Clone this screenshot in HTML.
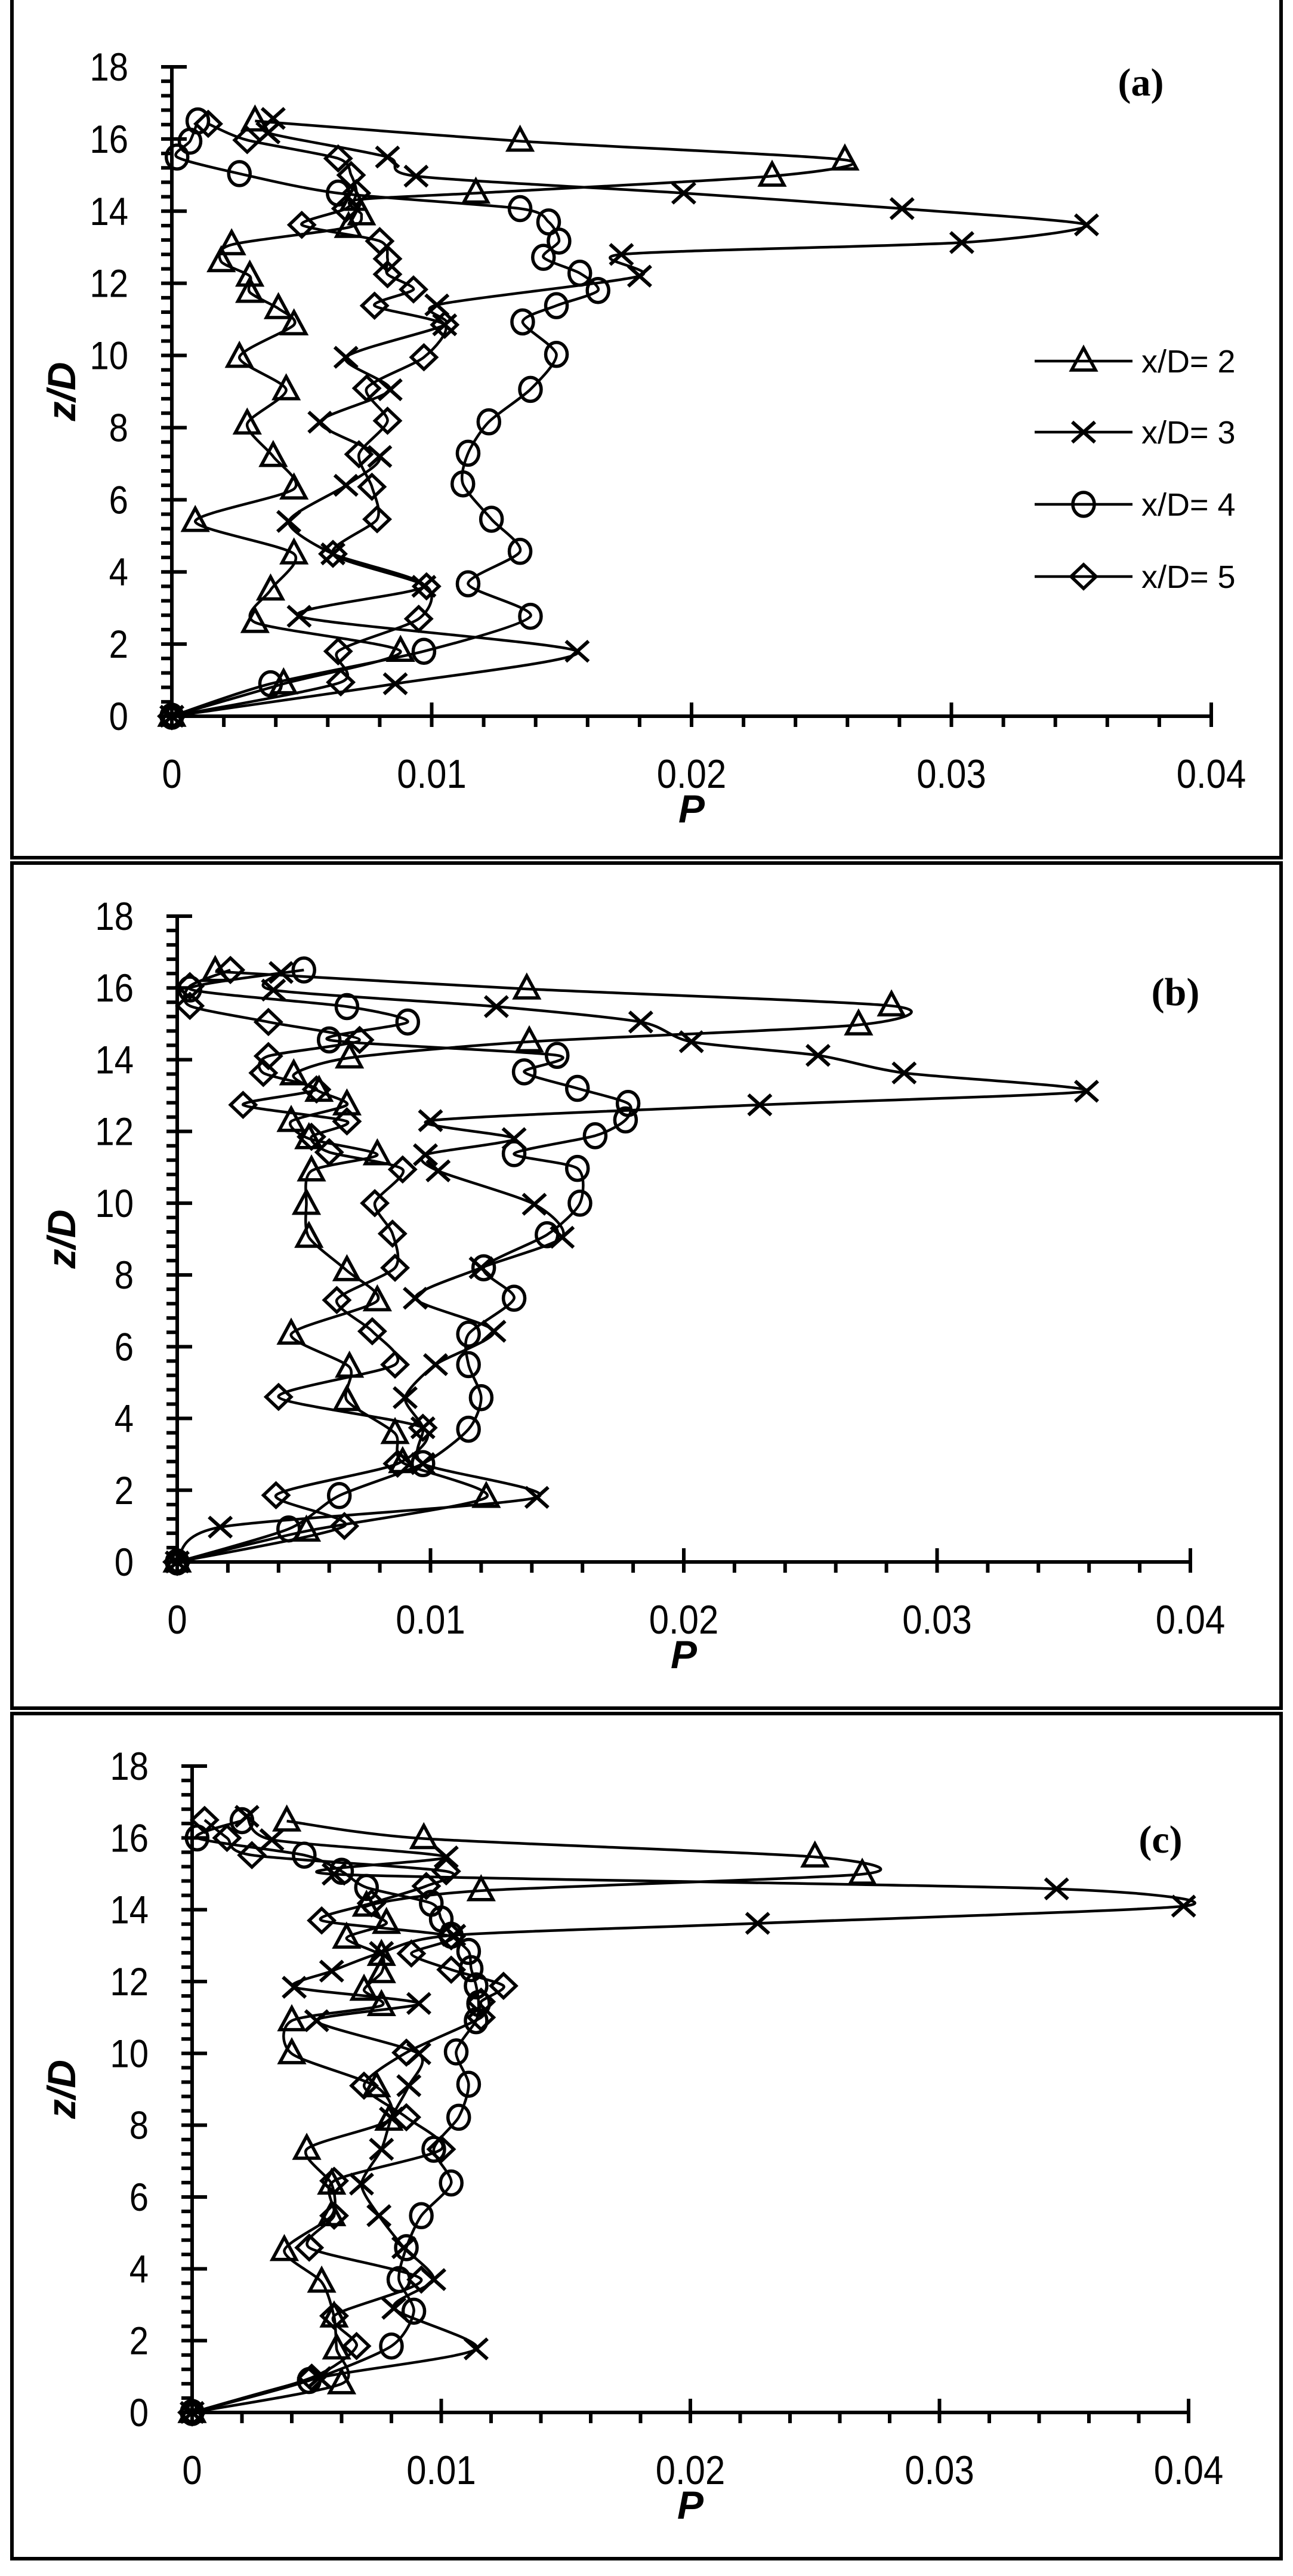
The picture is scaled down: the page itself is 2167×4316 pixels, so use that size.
<!DOCTYPE html>
<html><head><meta charset="utf-8"><style>
html,body{margin:0;padding:0;background:#fff;}
svg{display:block}
</style></head><body>
<svg id="s" width="2167" height="4316" xmlns="http://www.w3.org/2000/svg"></svg>
<script>
const svg=document.getElementById('s');
let out='';
function cr(pts){
  let d='M'+pts[0][0].toFixed(1)+','+pts[0][1].toFixed(1);
  for(let i=0;i<pts.length-1;i++){
    const p0=pts[i-1]||pts[i],p1=pts[i],p2=pts[i+1],p3=pts[i+2]||pts[i+1];
    const t=1/8;
    const c1=[p1[0]+(p2[0]-p0[0])*t,p1[1]+(p2[1]-p0[1])*t];
    const c2=[p2[0]-(p3[0]-p1[0])*t,p2[1]-(p3[1]-p1[1])*t];
    d+='C'+c1[0].toFixed(1)+','+c1[1].toFixed(1)+' '+c2[0].toFixed(1)+','+c2[1].toFixed(1)+' '+p2[0].toFixed(1)+','+p2[1].toFixed(1);
  }
  return d;
}
function marker(type,x,y){
  const s='stroke="#000" stroke-width="5.5" fill="none"';
  if(type==0){return `<path d="M${x},${y-22}L${x+20},${y+15}L${x-20},${y+15}Z" ${s}/>`;}
  if(type==1){return `<path d="M${x-19},${y-17}L${x+19},${y+17}M${x-19},${y+17}L${x+19},${y-17}" stroke="#000" stroke-width="6" fill="none"/>`;}
  if(type==2){return `<ellipse cx="${x}" cy="${y}" rx="18" ry="20" ${s}/>`;}
  return `<path d="M${x},${y-20}L${x+21},${y}L${x},${y+20}L${x-21},${y}Z" ${s}/>`;
}
function panel(P){
  const {x0,x1,y0,y18,ft,fb,lab,lx,ly,series,legend}=P;
  const sx=p=>x0+(x1-x0)*p/0.04, sy=z=>y0-(y0-y18)*z/18;
  out+=`<rect x="20" y="${ft}" width="2127" height="${fb-ft}" fill="none" stroke="#000" stroke-width="6"/>`;
  out+=`<line x1="${x0}" y1="${y18}" x2="${x0}" y2="${y0}" stroke="#000" stroke-width="6"/>`;
  for(let i=0;i<=45;i++){const y=sy(i*0.4);
    if(i%5==0){out+=`<line x1="${x0-18}" y1="${y}" x2="${x0+25}" y2="${y}" stroke="#000" stroke-width="6"/>`;
      out+=`<text x="${x0-73}" y="${y+23}" font-family="Liberation Sans, sans-serif" font-size="66" text-anchor="end" transform="translate(${x0-73},0) scale(0.88,1) translate(${-(x0-73)},0)">${i*0.4}</text>`;}
    else out+=`<line x1="${x0-18}" y1="${y}" x2="${x0}" y2="${y}" stroke="#000" stroke-width="6"/>`;}
  out+=`<line x1="${x0}" y1="${y0}" x2="${x1}" y2="${y0}" stroke="#000" stroke-width="6"/>`;
  for(let i=0;i<=20;i++){const x=sx(i*0.002);
    if(i%5==0){out+=`<line x1="${x}" y1="${y0-23}" x2="${x}" y2="${y0+18}" stroke="#000" stroke-width="6"/>`;
      const t=['0','0.01','0.02','0.03','0.04'][i/5];
      out+=`<text x="${x}" y="${y0+120}" font-family="Liberation Sans, sans-serif" font-size="68" text-anchor="middle" transform="translate(${x},0) scale(0.88,1) translate(${-x},0)">${t}</text>`;}
    else out+=`<line x1="${x}" y1="${y0}" x2="${x}" y2="${y0+18}" stroke="#000" stroke-width="6"/>`;}
  const cx=(x0+x1)/2, cy=(y0+y18)/2;
  out+=`<text x="${cx}" y="${y0+178}" font-family="Liberation Sans, sans-serif" font-weight="bold" font-style="italic" font-size="66" text-anchor="middle">P</text>`;
  out+=`<text x="0" y="0" font-family="Liberation Sans, sans-serif" font-weight="bold" font-style="italic" font-size="66" text-anchor="middle" transform="translate(126,${cy}) rotate(-90)">z/D</text>`;
  out+=`<text x="${lx}" y="${ly}" font-family="Liberation Serif, serif" font-weight="bold" font-size="66" text-anchor="middle">${lab}</text>`;
  series.forEach((ser,k)=>{
    const pts=ser.map(([p,z])=>[sx(p),sy(z)]);
    out+=`<path d="${cr(pts)}" stroke="#000" stroke-width="4.5" fill="none"/>`;
    pts.forEach(q=>out+=marker(k,q[0],q[1]));
  });
  if(legend){
    [605,724,845,966].forEach((y,k)=>{
      out+=`<line x1="1734" y1="${y}" x2="1898" y2="${y}" stroke="#000" stroke-width="4.5"/>`;
      out+=marker(k,1816,y);
      out+=`<text x="1913" y="${y+19}" font-family="Liberation Sans, sans-serif" font-size="54">x/D= ${k+2}</text>`;
    });
  }
}
const A=[
[[0,0],[0.0043,0.9],[0.0088,1.8],[0.0032,2.6],[0.0038,3.5],[0.0047,4.5],[0.0009,5.4],[0.0047,6.3],[0.0039,7.2],[0.0029,8.1],[0.0044,9.05],[0.0026,9.95],[0.0047,10.85],[0.0041,11.3],[0.003,11.75],[0.003,12.2],[0.0019,12.6],[0.0023,13.07],[0.0068,13.55],[0.0073,13.9],[0.007,14.3],[0.0117,14.5],[0.0231,14.97],[0.0259,15.42],[0.0134,15.94],[0.0032,16.5]],
[[0,0],[0.0086,0.9],[0.0156,1.8],[0.0049,2.77],[0.0097,3.6],[0.0062,4.5],[0.0045,5.4],[0.0067,6.4],[0.008,7.2],[0.0057,8.15],[0.0084,9.05],[0.0067,9.95],[0.0105,10.85],[0.0102,11.4],[0.018,12.2],[0.0173,12.8],[0.0304,13.13],[0.0352,13.62],[0.0281,14.07],[0.0197,14.5],[0.0094,14.97],[0.0083,15.5],[0.0037,16.17],[0.0039,16.57]],
[[0,0],[0.0038,0.9],[0.0097,1.8],[0.0138,2.77],[0.0114,3.67],[0.0134,4.57],[0.0123,5.46],[0.0112,6.44],[0.0114,7.29],[0.0122,8.16],[0.0138,9.06],[0.0148,10.03],[0.0135,10.93],[0.0148,11.38],[0.0164,11.8],[0.0157,12.28],[0.0143,12.72],[0.0149,13.17],[0.0145,13.7],[0.0134,14.07],[0.0064,14.5],[0.0026,15.04],[0.0002,15.5],[0.0007,15.94],[0.001,16.5]],
[[0,0],[0.0065,0.94],[0.0064,1.8],[0.0095,2.7],[0.0098,3.6],[0.0062,4.5],[0.0079,5.46],[0.0077,6.36],[0.0072,7.26],[0.0083,8.19],[0.0075,9.09],[0.0097,9.95],[0.0105,10.85],[0.0078,11.38],[0.0093,11.83],[0.0083,12.25],[0.0083,12.68],[0.008,13.17],[0.005,13.62],[0.0067,14.07],[0.0071,14.5],[0.0069,15.0],[0.0064,15.46],[0.0029,15.97],[0.0014,16.42]]
];
const B=[
[[0,0],[0.0051,0.86],[0.0122,1.8],[0.0089,2.77],[0.0086,3.58],[0.0067,4.5],[0.0068,5.43],[0.0045,6.35],[0.0079,7.28],[0.0067,8.12],[0.0052,9.05],[0.0051,9.97],[0.0053,10.9],[0.0079,11.35],[0.0052,11.8],[0.0045,12.28],[0.0067,12.74],[0.0056,13.12],[0.0046,13.58],[0.0068,14.05],[0.0139,14.5],[0.0269,14.97],[0.0282,15.5],[0.0138,15.97],[0.0015,16.46]],
[[0,0],[0.0017,0.97],[0.0142,1.8],[0.0097,2.74],[0.0097,3.74],[0.009,4.58],[0.0102,5.5],[0.0125,6.43],[0.0094,7.35],[0.012,8.2],[0.0152,9.05],[0.0141,9.97],[0.0103,10.9],[0.0098,11.35],[0.0133,11.8],[0.01,12.3],[0.023,12.74],[0.0359,13.12],[0.0287,13.63],[0.0253,14.12],[0.0203,14.5],[0.0183,15.05],[0.0126,15.48],[0.0038,15.94],[0.0041,16.43]],
[[0,0],[0.0044,0.92],[0.0064,1.85],[0.0097,2.74],[0.0115,3.7],[0.012,4.58],[0.0115,5.5],[0.0115,6.35],[0.0133,7.35],[0.0121,8.2],[0.0146,9.12],[0.0159,10.0],[0.0158,10.97],[0.0133,11.38],[0.0165,11.88],[0.0177,12.32],[0.0178,12.78],[0.0158,13.2],[0.0137,13.66],[0.015,14.12],[0.006,14.55],[0.0091,15.05],[0.0067,15.48],[0.0005,15.97],[0.005,16.5]],
[[0,0],[0.0066,1.0],[0.0039,1.86],[0.0087,2.74],[0.0097,3.74],[0.004,4.6],[0.0086,5.5],[0.0077,6.43],[0.0063,7.3],[0.0086,8.2],[0.0085,9.15],[0.0078,10.0],[0.0089,10.94],[0.006,11.42],[0.0053,11.85],[0.0067,12.28],[0.0026,12.74],[0.0055,13.17],[0.0034,13.63],[0.0036,14.1],[0.0072,14.55],[0.0036,15.05],[0.0005,15.5],[0.0005,16.05],[0.0021,16.5]]
];
const C=[
[[0,0],[0.006,0.8],[0.0058,1.77],[0.0057,2.66],[0.0052,3.63],[0.0037,4.51],[0.0056,5.48],[0.0056,6.36],[0.0046,7.33],[0.0079,8.14],[0.0074,9.07],[0.004,9.99],[0.004,10.91],[0.0076,11.33],[0.0069,11.76],[0.0076,12.25],[0.0076,12.73],[0.0062,13.21],[0.0078,13.62],[0.007,14.1],[0.0116,14.53],[0.0269,14.99],[0.025,15.47],[0.0093,15.98],[0.0038,16.47]],
[[0,0],[0.0051,0.97],[0.0114,1.77],[0.0081,2.9],[0.0097,3.7],[0.0085,4.59],[0.0075,5.48],[0.0068,6.36],[0.0076,7.33],[0.008,8.2],[0.0087,9.1],[0.0091,9.99],[0.005,10.91],[0.0091,11.39],[0.0041,11.84],[0.0056,12.29],[0.0076,12.81],[0.0105,13.29],[0.0227,13.62],[0.0398,14.1],[0.0347,14.58],[0.0057,14.99],[0.0102,15.47],[0.0032,15.95],[0.0022,16.6]],
[[0,0],[0.0047,0.89],[0.008,1.85],[0.0089,2.82],[0.0083,3.7],[0.0086,4.59],[0.0092,5.48],[0.0104,6.39],[0.0097,7.33],[0.0107,8.22],[0.0111,9.14],[0.0106,10.04],[0.0114,10.91],[0.0115,11.39],[0.0114,11.88],[0.0112,12.36],[0.0111,12.84],[0.0104,13.29],[0.01,13.74],[0.0096,14.18],[0.007,14.62],[0.006,15.07],[0.0045,15.52],[0.0002,16.0],[0.002,16.48]],
[[0,0],[0.0048,0.97],[0.0066,1.85],[0.0057,2.69],[0.0092,3.7],[0.0047,4.59],[0.0057,5.48],[0.0057,6.45],[0.01,7.33],[0.0086,8.22],[0.0069,9.1],[0.0086,10.02],[0.0116,11.0],[0.0116,11.44],[0.0125,11.88],[0.0104,12.33],[0.0088,12.78],[0.0104,13.26],[0.0052,13.7],[0.0072,14.18],[0.0094,14.66],[0.0102,15.07],[0.0024,15.52],[0.0014,16.0],[0.0005,16.5]]
];
panel({x0:288,x1:2030,y0:1200,y18:112,ft:-10,fb:1437,lab:'(a)',lx:1912,ly:160,series:A,legend:true});
panel({x0:297,x1:1995,y0:2617,y18:1535,ft:1446,fb:2862,lab:'(b)',lx:1970,ly:1684,series:B,legend:false});
panel({x0:322,x1:1992,y0:4042,y18:2959,ft:2871,fb:4287,lab:'(c)',lx:1945,ly:3104,series:C,legend:false});
svg.innerHTML=out;
</script>
</body></html>
